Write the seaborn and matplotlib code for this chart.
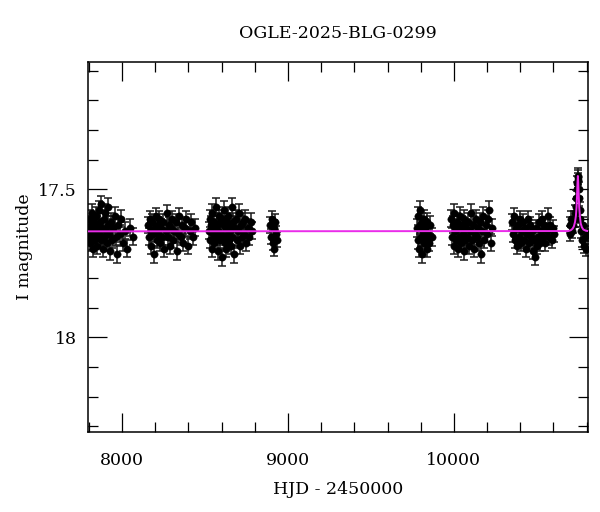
import numpy as np
import pandas as pd
import seaborn as sns
import matplotlib.pyplot as plt
from matplotlib.ticker import MultipleLocator

s1_hjd = [7797, 7801, 7805, 7808, 7812, 7815, 7819, 7822, 7826, 7830, 7833, 7837, 7841, 7845, 7848, 7852,
          7856, 7860, 7864, 7868, 7872, 7876, 7881, 7885, 7890, 7894, 7899, 7903, 7908, 7913, 7918, 7924,
          7930, 7936, 7942, 7948, 7955, 7962, 7970, 7978, 7986, 7995, 8005, 8018, 8032, 8050, 8064]
s1_mag = [17.63, 17.66, 17.60, 17.68, 17.62, 17.65, 17.58, 17.70, 17.64, 17.61, 17.67, 17.63, 17.59, 17.66,
          17.62, 17.69, 17.64, 17.57, 17.65, 17.61, 17.67, 17.55, 17.63, 17.70, 17.60, 17.66, 17.58, 17.64,
          17.68, 17.62, 17.56, 17.65, 17.71, 17.61, 17.67, 17.63, 17.59, 17.66, 17.72, 17.62, 17.65, 17.60,
          17.68, 17.64, 17.70, 17.63, 17.66]
s2_hjd = [8158, 8163, 8168, 8172, 8177, 8182, 8187, 8192, 8197, 8203, 8208, 8214, 8219, 8225, 8231, 8237,
          8243, 8249, 8255, 8262, 8268, 8275, 8281, 8288, 8295, 8302, 8309, 8316, 8323, 8331, 8338, 8346,
          8354, 8362, 8370, 8379, 8388, 8397, 8407, 8417, 8428, 8438]
s2_mag = [17.62, 17.66, 17.60, 17.64, 17.69, 17.61, 17.65, 17.72, 17.63, 17.59, 17.67, 17.62, 17.65, 17.60,
          17.68, 17.63, 17.66, 17.61, 17.70, 17.64, 17.58, 17.66, 17.62, 17.69, 17.63, 17.60, 17.67, 17.64,
          17.61, 17.71, 17.65, 17.59, 17.66, 17.62, 17.68, 17.63, 17.60, 17.69, 17.64, 17.61, 17.66, 17.63]
s3_hjd = [8525, 8529, 8533, 8537, 8541, 8545, 8549, 8553, 8557, 8561, 8565, 8569, 8573, 8577, 8581, 8585,
          8589, 8593, 8597, 8601, 8605, 8609, 8613, 8617, 8621, 8625, 8629, 8633, 8637, 8641, 8645, 8649,
          8653, 8657, 8661, 8665, 8670, 8675, 8680, 8685, 8690, 8696, 8702, 8708, 8714, 8720, 8727, 8734,
          8741, 8749, 8757, 8766, 8775, 8782]
s3_mag = [17.64, 17.60, 17.67, 17.62, 17.70, 17.58, 17.65, 17.61, 17.68, 17.63,
          17.56, 17.66, 17.62, 17.71, 17.64, 17.59, 17.67, 17.61, 17.65, 17.73,
          17.60, 17.66, 17.62, 17.57, 17.68, 17.63, 17.70, 17.61, 17.65, 17.59,
          17.67, 17.62, 17.64, 17.69, 17.56, 17.66, 17.61, 17.72, 17.63, 17.60,
          17.67, 17.64, 17.58, 17.69, 17.62, 17.66, 17.61, 17.65, 17.60, 17.68,
          17.63, 17.66, 17.61, 17.64]
s4_hjd = [8893, 8898, 8903, 8908, 8913, 8918, 8923, 8928, 8933]
s4_mag = [17.62, 17.66, 17.60, 17.68, 17.63, 17.70, 17.61, 17.65, 17.67]
s5_hjd = [9778, 9782, 9786, 9790, 9794, 9798, 9802, 9806, 9810, 9814, 9818, 9822, 9826, 9830, 9835, 9840,
          9846, 9852, 9858, 9865]
s5_mag = [17.63, 17.67, 17.59, 17.70, 17.62, 17.57, 17.66, 17.61, 17.72, 17.64, 17.60, 17.68, 17.63, 17.66,
          17.70, 17.61, 17.65, 17.68, 17.62, 17.66]
s6_hjd = [9983, 9988, 9993, 9998, 10003, 10008, 10013, 10018, 10023, 10028, 10033, 10038, 10043, 10048,
          10053, 10058, 10063, 10068, 10074, 10080, 10086, 10092, 10098, 10104, 10110, 10116, 10122, 10128,
          10134, 10140, 10146, 10152, 10158, 10164, 10170, 10177, 10184, 10191, 10198, 10206, 10214, 10222,
          10230]
s6_mag = [17.60, 17.66, 17.62, 17.69, 17.58, 17.64, 17.67, 17.61, 17.70, 17.63,
          17.66, 17.59, 17.68, 17.62, 17.65, 17.71, 17.60, 17.67, 17.63, 17.66,
          17.61, 17.69, 17.64, 17.58, 17.67, 17.62, 17.70, 17.65, 17.60, 17.66,
          17.63, 17.68, 17.61, 17.72, 17.64, 17.59, 17.67, 17.62, 17.65, 17.60,
          17.57, 17.68, 17.63]
s7_hjd = [10350, 10356, 10362, 10368, 10374, 10380, 10386, 10392, 10398, 10404, 10410, 10416, 10422, 10428,
          10434, 10440, 10446, 10452, 10458, 10464, 10470, 10476, 10482, 10488, 10494, 10500, 10506, 10512,
          10518, 10524, 10530, 10537, 10544, 10551, 10558, 10566, 10574, 10582, 10590, 10598, 10606]
s7_mag = [17.61, 17.65, 17.59, 17.67, 17.63, 17.69, 17.62, 17.66, 17.60, 17.68,
          17.64, 17.61, 17.67, 17.63, 17.70, 17.65, 17.60, 17.68, 17.62, 17.66,
          17.64, 17.71, 17.67, 17.73, 17.63, 17.69, 17.66, 17.61, 17.68, 17.64,
          17.60, 17.66, 17.62, 17.68, 17.64, 17.59, 17.66, 17.62, 17.67, 17.63,
          17.65]
s8_hjd = [10699, 10702, 10706, 10712, 10718, 10722, 10727, 10731, 10735, 10738, 10741, 10743, 10745, 10747,
          10749, 10751, 10754, 10757, 10761, 10765, 10770, 10775, 10781, 10787, 10793, 10799]
s8_mag = [17.62, 17.65, 17.60, 17.64, 17.62, 17.60, 17.58, 17.60, 17.56, 17.53, 17.50, 17.48, 17.46, 17.455,
          17.47, 17.50, 17.53, 17.57, 17.60, 17.64, 17.67, 17.62, 17.69, 17.66, 17.70, 17.65]
# typical error bar half-length per season (mag)
season_err = [0.029, 0.028, 0.029, 0.026, 0.030, 0.029, 0.027, 0.026]

# microlensing model curve
model_hjd = [7795, 10690, 10705, 10715, 10723, 10730, 10735, 10739, 10742, 10745, 10747, 10749, 10752,
             10755, 10759, 10764, 10771, 10780, 10795, 10808]
model_mag = [17.642, 17.641, 17.638, 17.633, 17.625, 17.61, 17.59, 17.56, 17.52, 17.475, 17.455, 17.475,
             17.52, 17.56, 17.59, 17.615, 17.628, 17.636, 17.64, 17.641]

seasons = [(s1_hjd, s1_mag), (s2_hjd, s2_mag), (s3_hjd, s3_mag), (s4_hjd, s4_mag),
           (s5_hjd, s5_mag), (s6_hjd, s6_mag), (s7_hjd, s7_mag), (s8_hjd, s8_mag)]
frames = []
for (h, m), e in zip(seasons, season_err):
    frames.append(pd.DataFrame({"hjd": h, "mag": m, "err": e}))
phot = pd.concat(frames, ignore_index=True)
model = pd.DataFrame({"hjd": model_hjd, "mag": model_mag})

sns.set_theme(style="ticks")
plt.rcParams['font.family'] = ['DejaVu Serif']
plt.rcParams['mathtext.fontset'] = 'dejavuserif'

fig, ax = plt.subplots(figsize=(6, 5.12), dpi=100)
fig.subplots_adjust(left=0.1467, right=0.98, bottom=0.156, top=0.879)

ax.errorbar(phot["hjd"], phot["mag"], yerr=phot["err"], fmt="none", ecolor="#1a1a1a",
            elinewidth=1.1, capsize=2.6, capthick=1.1, zorder=2)
sns.scatterplot(data=phot, x="hjd", y="mag", ax=ax, color="black", s=28, edgecolor="black",
                linewidth=0.3, zorder=3)
sns.lineplot(data=model, x="hjd", y="mag", ax=ax, color="#ea2cea", linewidth=1.4,
             sort=False, estimator=None, zorder=4)

ax.set_xlim(7795, 10808)
ax.set_ylim(18.32, 17.07)
ax.xaxis.set_major_locator(MultipleLocator(1000))
ax.xaxis.set_minor_locator(MultipleLocator(200))
ax.yaxis.set_minor_locator(MultipleLocator(0.1))
ax.set_yticks([17.5, 18])
ax.set_yticklabels(["17.5", "18"])

ax.tick_params(which="both", direction="in", top=True, right=True, color="black", width=0.9,
               labelsize=12.5, labelcolor="black")
ax.tick_params(which="major", length=14)
ax.tick_params(which="minor", length=7)
ax.tick_params(axis="x", which="major", pad=14)
ax.tick_params(axis="y", which="major", pad=8)
for sp in ax.spines.values():
    sp.set_color("black")
    sp.set_linewidth(1.1)

ax.set_title("OGLE-2025-BLG-0299", fontsize=12.5, pad=17, color="black")
ax.set_xlabel("HJD - 2450000", fontsize=12.5, labelpad=9, color="black")
ax.set_ylabel("I magnitude", fontsize=12.5, labelpad=4, color="black")

fig.savefig("out.png", dpi=100)
